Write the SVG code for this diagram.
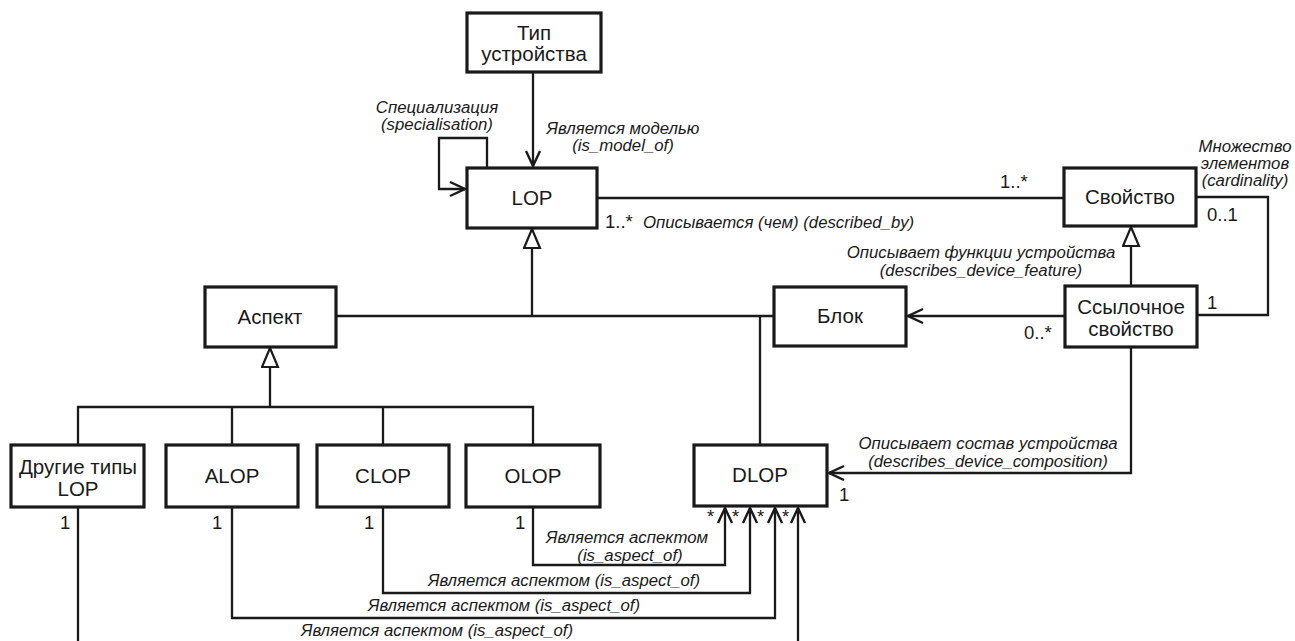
<svg xmlns="http://www.w3.org/2000/svg" width="1295" height="641" viewBox="0 0 1295 641">
<defs>
<style>
.box{fill:#fff;stroke:#1a1a1a;stroke-width:3.2}
.n{font-family:"Liberation Sans",Arial,sans-serif;font-size:20.5px;fill:#1a1a1a;text-anchor:middle}
.c{fill:none;stroke:#1a1a1a;stroke-width:2.3}
.l{font-family:"Liberation Sans",Arial,sans-serif;font-size:16.8px;font-style:italic;fill:#1a1a1a}
.m{font-family:"Liberation Sans",Arial,sans-serif;font-size:18.5px;fill:#1a1a1a}
.mid{text-anchor:middle}
</style>
<marker id="open" markerUnits="userSpaceOnUse" markerWidth="20" markerHeight="20" refX="16" refY="8" orient="auto">
<path d="M1,1 L16,8 L1,15" fill="none" stroke="#1a1a1a" stroke-width="2.4"/>
</marker>
<marker id="gen" markerUnits="userSpaceOnUse" markerWidth="24" markerHeight="20" refX="20" refY="9" orient="auto">
<path d="M1,1 L20,9 L1,17 Z" fill="#fff" stroke="#1a1a1a" stroke-width="2.2"/>
</marker>
</defs>
<rect width="1295" height="641" fill="#fff"/>

<g id="connectors">
<path class="c" d="M533,72 V166" marker-end="url(#open)"/>
<path class="c" d="M487,168 V138 H439 V189 H465" marker-end="url(#open)"/>
<path class="c" d="M597,198 H1064"/>
<path class="c" d="M1196,197 H1268 V315 H1197"/>
<path class="c" d="M1131,286 V227" marker-end="url(#gen)"/>
<path class="c" d="M1065,316 H908" marker-end="url(#open)"/>
<path class="c" d="M1131,347 V473 H829" marker-end="url(#open)"/>
<path class="c" d="M336,316 H774"/>
<path class="c" d="M532,316 V229" marker-end="url(#gen)"/>
<path class="c" d="M760,316 V445"/>
<path class="c" d="M270,407 V348" marker-end="url(#gen)"/>
<path class="c" d="M78,445 V407 H533 V445 M232,407 V445 M383,407 V445"/>
<path class="c" d="M533,507 V565 H725 V508" marker-end="url(#open)"/>
<path class="c" d="M383,507 V593 H750 V508" marker-end="url(#open)"/>
<path class="c" d="M232,507 V618 H775 V508" marker-end="url(#open)"/>
<path class="c" d="M78,507 V645"/>
<path class="c" d="M798,645 V508" marker-end="url(#open)"/>

<text class="l mid" x="437" y="113">Специализация</text>
<text class="l mid" x="437" y="130">(specialisation)</text>
<text class="l mid" x="623" y="134">Является моделью</text>
<text class="l mid" x="623" y="151">(is_model_of)</text>
<text class="m" x="1000" y="188">1..*</text>
<text class="m" x="605" y="228">1..*</text>
<text class="l" x="643" y="228">Описывается (чем) (described_by)</text>
<text class="l mid" x="1245" y="152">Множество</text>
<text class="l mid" x="1245" y="169">элементов</text>
<text class="l mid" x="1245" y="186">(cardinality)</text>
<text class="m" x="1207" y="221">0..1</text>
<text class="m" x="1207" y="309">1</text>
<text class="l mid" x="981" y="258">Описывает функции устройства</text>
<text class="l mid" x="981" y="276">(describes_device_feature)</text>
<text class="m" x="1024" y="339">0..*</text>
<text class="l mid" x="988" y="449">Описывает состав устройства</text>
<text class="l mid" x="988" y="467">(describes_device_composition)</text>
<text class="m" x="839" y="501">1</text>
<text class="m" x="60" y="529">1</text>
<text class="m" x="212" y="529">1</text>
<text class="m" x="364" y="529">1</text>
<text class="m" x="515" y="529">1</text>
<text class="m" x="707" y="523">*</text>
<text class="m" x="732" y="523">*</text>
<text class="m" x="757" y="523">*</text>
<text class="m" x="782" y="523">*</text>
<text class="l mid" x="627" y="543">Является аспектом</text>
<text class="l mid" x="630" y="561">(is_aspect_of)</text>
<text class="l mid" x="564" y="586">Является аспектом (is_aspect_of)</text>
<text class="l mid" x="504" y="611">Является аспектом (is_aspect_of)</text>
<text class="l mid" x="437" y="636">Является аспектом (is_aspect_of)</text>
</g>

<g id="type"><rect class="box" x="467" y="13" width="134" height="59"/><text class="n" x="534" y="40">Тип</text><text class="n" x="534" y="61">устройства</text></g>
<g id="lop"><rect class="box" x="467" y="168" width="130" height="60"/><text class="n" x="532" y="205">LOP</text></g>
<g id="property"><rect class="box" x="1064" y="168" width="132" height="58"/><text class="n" x="1130" y="204">Свойство</text></g>
<g id="aspect"><rect class="box" x="205" y="287" width="131" height="60"/><text class="n" x="270" y="324">Аспект</text></g>
<g id="block"><rect class="box" x="774" y="287" width="132" height="59"/><text class="n" x="840" y="323">Блок</text></g>
<g id="refprop"><rect class="box" x="1065" y="286" width="132" height="61"/><text class="n" x="1131" y="314">Ссылочное</text><text class="n" x="1131" y="336">свойство</text></g>
<g id="other"><rect class="box" x="11" y="445" width="133" height="62"/><text class="n" x="78" y="474">Другие типы</text><text class="n" x="78" y="496">LOP</text></g>
<g id="alop"><rect class="box" x="166" y="445" width="132" height="62"/><text class="n" x="232" y="483">ALOP</text></g>
<g id="clop"><rect class="box" x="317" y="445" width="132" height="62"/><text class="n" x="383" y="483">CLOP</text></g>
<g id="olop"><rect class="box" x="466" y="445" width="134" height="62"/><text class="n" x="533" y="483">OLOP</text></g>
<g id="dlop"><rect class="box" x="694" y="445" width="133" height="61"/><text class="n" x="760" y="482">DLOP</text></g>
</svg>
